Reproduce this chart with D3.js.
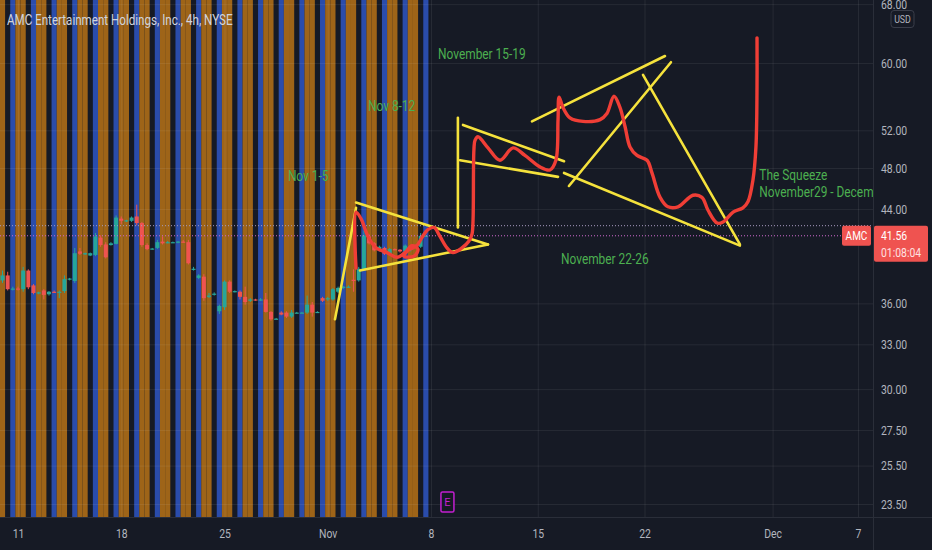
<!DOCTYPE html>
<html>
<head>
<meta charset="utf-8">
<script src="https://cdn.jsdelivr.net/npm/d3@7"></script>
<style>
html, body { margin: 0; padding: 0; background: #161a25; }
svg { display: block; font-family: Roboto, "Noto Sans", sans-serif; }
</style>
</head>
<body>
<div id="chart"></div>
<script>

// trading-day index: 0 = Oct 11, 20 = Nov 8, 40 = Dec 7 (weekends and Thanksgiving skipped)
var xTickDays = [0, 5, 10, 15, 20, 25, 30, 36, 40];
var xTickLabels = ['11', '18', '25', 'Nov', '8', '15', '22', 'Dec', '7'];
var yTicks = [23.5, 25.5, 27.5, 30, 33, 36, 44, 48, 52, 60, 68];

// 4h bars, 4 per day, first bar = Oct 8
var firstDay = -1;
var barsPerDay = 4;
var sessionColors = ['#9e6418', '#9e6418', null, '#2a4cab'];

var candleOpen = [37.9, 37.8, 38.2, 37.1, 37.15, 37.1, 38.6, 37.4, 36.8, 37.0, 36.7, 36.9, 36.85, 36.95, 37.9, 37.75,
    40.2, 40.0, 39.85, 39.9, 41.4, 40.8, 40.75, 40.85, 43.1, 42.9, 42.9, 43.3, 42.7, 40.75, 40.4, 40.5,
    41.05, 40.95, 41.0, 41.0, 41.05, 41.0, 38.65, 38.0, 38.1, 36.5, 36.7, 35.4, 35.7, 37.7, 36.95, 36.9,
    36.5, 36.2, 36.3, 36.3, 36.3, 35.35, 34.85, 35.3, 35.3, 35.0, 35.3, 35.3, 35.3, 35.9, 35.35, 36.4,
    36.3, 36.3, 36.9, 37.2, 37.3, 37.85, 37.8, 38.7, 41.5, 40.9, 40.3, 40.5, 40.0, 40.4, 40.35, 40.2,
    40.3, 40.6, 40.6, 41.56];
var candleHigh = [38.3, 38.6, 38.5, 37.3, 37.3, 38.9, 38.7, 37.5, 36.9, 37.1, 36.95, 37.0, 37.0, 38.2, 38.0, 40.5,
    40.5, 40.1, 40.1, 41.8, 41.6, 41.0, 41.0, 43.4, 43.3, 43.0, 43.3, 44.4, 42.8, 40.9, 40.5, 41.2,
    41.5, 41.1, 41.05, 41.1, 41.2, 41.2, 38.9, 38.3, 38.3, 36.8, 36.85, 35.9, 37.8, 37.8, 37.0, 37.0,
    37.3, 36.4, 36.35, 36.4, 36.8, 35.4, 34.9, 35.4, 35.4, 35.5, 35.35, 35.35, 36.6, 36.1, 35.4, 36.5,
    36.5, 37.2, 37.3, 37.35, 37.4, 38.7, 38.9, 42.0, 41.7, 41.0, 40.7, 40.6, 40.5, 40.45, 40.4, 40.8,
    40.7, 40.7, 41.8, 41.6];
var candleLow = [37.7, 37.6, 37.0, 37.0, 37.0, 36.9, 37.1, 36.7, 36.7, 36.3, 36.6, 36.8, 36.4, 36.8, 37.8, 37.6,
    39.9, 39.9, 39.8, 39.8, 40.6, 39.6, 40.7, 40.8, 42.6, 42.8, 42.8, 42.5, 40.6, 40.3, 40.35, 40.4,
    40.8, 40.9, 40.95, 40.9, 40.95, 39.1, 38.6, 37.9, 36.2, 36.4, 36.6, 35.2, 35.5, 36.8, 36.85, 36.3,
    35.9, 36.1, 36.2, 36.2, 35.3, 34.7, 34.8, 35.1, 34.9, 34.9, 35.25, 35.25, 35.2, 35.0, 35.3, 36.1,
    36.2, 36.2, 36.8, 37.1, 37.2, 36.9, 37.7, 38.6, 40.8, 40.2, 40.2, 39.9, 39.9, 40.3, 40.1, 40.1,
    40.2, 40.55, 40.5, 41.5];
var candleClose = [38.0, 38.2, 37.1, 37.15, 37.1, 38.6, 37.25, 36.8, 36.85, 36.65, 36.9, 36.85, 36.9, 37.9, 37.95, 40.05,
    40.0, 40.05, 40.05, 41.5, 40.75, 39.7, 40.9, 43.2, 42.9, 42.95, 43.2, 42.7, 40.75, 40.4, 40.45, 41.0,
    40.9, 41.0, 41.0, 41.05, 41.0, 39.2, 38.75, 38.2, 36.4, 36.6, 36.75, 35.8, 37.7, 36.9, 36.95, 36.5,
    36.1, 36.3, 36.25, 36.3, 35.35, 34.8, 34.85, 35.15, 35.0, 35.3, 35.3, 35.3, 35.9, 35.3, 35.35, 36.2,
    36.4, 37.1, 37.2, 37.3, 37.3, 37.75, 38.75, 41.6, 40.9, 40.3, 40.6, 40.0, 40.4, 40.35, 40.2, 40.7,
    40.6, 40.65, 41.56, 41.56];

var lastPrice = 41.56;
var countdown = '01:08:04';
var extLinePrice = 42.46;

// hand drawn yellow trend lines: start / end
var lineDay1 = [15.35, 16.37, 16.56, 21.26, 21.36, 21.5, 24.73, 26.46, 29.93, 26.23];
var linePrice1 = [34.8, 44.6, 38.6, 53.4, 48.8, 52.6, 53.0, 46.2, 58.5, 47.5];
var lineDay2 = [16.37, 22.67, 22.67, 21.26, 25.95, 26.23, 30.96, 31.24, 34.47, 34.47];
var linePrice2 = [44.1, 40.8, 40.8, 42.3, 47.1, 48.7, 60.9, 60.1, 40.8, 40.7];

// hand drawn red projection
var pathDay = [16.37, 16.37, 16.61, 16.95, 17.34, 17.87, 18.35, 18.74, 19.08, 19.37, 19.18, 18.69, 18.89, 19.32, 19.56,
    19.85, 20.14, 20.42, 20.75, 21.03, 21.45, 21.78, 21.92, 21.97, 22.01, 22.06, 22.2, 22.67, 23.23, 23.84,
    24.4, 25.11, 25.57, 25.85, 25.95, 26.0, 26.18, 26.51, 27.12, 27.92, 28.24, 28.57, 28.85, 29.09, 29.32,
    29.65, 30.12, 30.35, 30.73, 31.1, 31.57, 32.27, 32.69, 32.97, 33.4, 33.68, 34.15, 34.61, 34.85, 35.08,
    35.22, 35.27, 35.27];
var pathPrice = [38.8, 43.7, 43.1, 41.5, 40.5, 40.1, 39.7, 40.1, 40.7, 40.4, 39.8, 39.8, 40.3, 40.7, 41.4,
    42.1, 42.3, 41.5, 40.5, 40.1, 40.5, 41.1, 41.7, 43.0, 49.9, 50.9, 51.3, 50.1, 48.8, 50.1,
    49.3, 48.1, 47.8, 48.8, 53.2, 55.8, 54.6, 53.4, 53.0, 53.2, 53.9, 55.9, 54.6, 52.4, 50.2,
    49.3, 48.8, 47.5, 45.1, 44.2, 44.2, 45.3, 45.1, 43.9, 42.7, 42.8, 43.7, 44.1, 44.7, 46.8,
    50.2, 57.0, 63.3];

var noteText = ['Nov 1-5', 'Nov 8-12', 'November 15-19', 'November 22-26', 'The Squeeze', 'November29 - December 3'];
var noteDay = [13.07, 16.95, 20.33, 26.09, 35.38, 35.38];
var notePrice = [46.7, 54.2, 60.5, 39.1, 46.8, 45.1];

var earningsDay = 20.77;

var width = 932, height = 550;
var plotW = 873, plotH = 517;

var svg = d3.select('#chart').append('svg')
    .attr('width', width)
    .attr('height', height);

svg.append('rect')
    .attr('width', width)
    .attr('height', height)
    .attr('fill', '#161a25');

var x = d3.scaleLinear().domain([0, 20, 40]).range([18, 431, 858]);
var y = d3.scaleLog().domain([22.86, 68.6]).range([plotH, 0]);

// narrower glyphs like the screenshot
function condense(sel, k) {
    sel.each(function () {
        var w = this.getComputedTextLength();
        d3.select(this).attr('textLength', w * k).attr('lengthAdjust', 'spacingAndGlyphs');
    });
}

svg.append('clipPath').attr('id', 'plot')
    .append('rect').attr('width', plotW).attr('height', plotH);

var plot = svg.append('g').attr('clip-path', 'url(#plot)');

var bars = d3.range(candleOpen.length).map(i => ({
    day: firstDay + i / barsPerDay,
    color: sessionColors[i % barsPerDay],
    o: candleOpen[i], h: candleHigh[i], l: candleLow[i], c: candleClose[i]
}));

// session background
var half = 0.5 / barsPerDay;
plot.selectAll('.session')
    .data(bars.filter(d => d.color))
    .enter()
    .append('rect')
    .attr('class', 'session')
    .attr('x', d => x(d.day - half))
    .attr('width', d => x(d.day + half) - x(d.day - half))
    .attr('y', 0)
    .attr('height', plotH)
    .attr('fill', d => d.color);

// grid
plot.append('g')
    .call(d3.axisBottom(x).tickValues(xTickDays).tickSize(plotH).tickFormat(''))
    .call(g => g.select('.domain').remove())
    .selectAll('line').attr('stroke', 'rgba(255,255,255,0.07)');

plot.append('g')
    .call(d3.axisRight(y).tickValues(yTicks).tickSize(plotW).tickFormat(''))
    .call(g => g.select('.domain').remove())
    .selectAll('line').attr('stroke', 'rgba(255,255,255,0.07)');

// candles
var candle = plot.selectAll('.candle')
    .data(bars)
    .enter()
    .append('g')
    .attr('class', 'candle')
    .attr('fill', d => d.c >= d.o ? '#26a69a' : '#ef5350')
    .attr('stroke', d => d.c >= d.o ? '#26a69a' : '#ef5350');

candle.append('line')
    .attr('x1', d => x(d.day))
    .attr('x2', d => x(d.day))
    .attr('y1', d => y(d.h))
    .attr('y2', d => y(d.l))
    .attr('stroke-width', 1);

candle.append('rect')
    .attr('x', d => x(d.day) - 2)
    .attr('width', 4)
    .attr('y', d => y(Math.max(d.o, d.c)))
    .attr('height', d => Math.max(1.2, Math.abs(y(d.o) - y(d.c))))
    .attr('stroke', 'none');

// price lines
plot.append('line')
    .attr('x1', 0).attr('x2', plotW)
    .attr('y1', y(extLinePrice)).attr('y2', y(extLinePrice))
    .attr('stroke', '#a89cc0')
    .attr('stroke-width', 1)
    .attr('stroke-dasharray', '1 2');

plot.append('line')
    .attr('x1', 0).attr('x2', plotW)
    .attr('y1', y(lastPrice)).attr('y2', y(lastPrice))
    .attr('stroke', '#d06ad0')
    .attr('stroke-width', 1)
    .attr('stroke-dasharray', '1 2');

// yellow drawings
plot.selectAll('.trend')
    .data(lineDay1)
    .enter()
    .append('line')
    .attr('class', 'trend')
    .attr('x1', (d, i) => x(lineDay1[i]))
    .attr('y1', (d, i) => y(linePrice1[i]))
    .attr('x2', (d, i) => x(lineDay2[i]))
    .attr('y2', (d, i) => y(linePrice2[i]))
    .attr('stroke', '#f5e23c')
    .attr('stroke-width', 2.6)
    .attr('stroke-linecap', 'round');

// red projection
var line = d3.line()
    .x((d, i) => x(pathDay[i]))
    .y((d, i) => y(pathPrice[i]))
    .curve(d3.curveCatmullRom.alpha(0.5));

plot.append('path')
    .datum(pathDay)
    .attr('d', line)
    .attr('fill', 'none')
    .attr('stroke', '#f03e36')
    .attr('stroke-width', 3.4)
    .attr('stroke-linejoin', 'round')
    .attr('stroke-linecap', 'round');

// notes
plot.selectAll('.note')
    .data(noteText)
    .enter()
    .append('text')
    .attr('class', 'note')
    .attr('x', (d, i) => x(noteDay[i]))
    .attr('y', (d, i) => y(notePrice[i]))
    .attr('fill', '#4caf50')
    .attr('font-size', 14.5)
    .text(d => d)
    .call(condense, 0.82);

// earnings marker
var ex = x(earningsDay);
svg.append('rect')
    .attr('x', ex - 6.5).attr('y', 492)
    .attr('width', 13).attr('height', 20)
    .attr('rx', 1.5)
    .attr('fill', '#161a25')
    .attr('stroke', '#c31fd0')
    .attr('stroke-width', 1.5);
svg.append('text')
    .attr('x', ex).attr('y', 502)
    .attr('dy', '0.35em')
    .attr('text-anchor', 'middle')
    .attr('font-size', 11)
    .attr('fill', '#c31fd0')
    .text('E');

// axes frame
svg.append('line')
    .attr('x1', 0).attr('x2', width)
    .attr('y1', plotH + 0.5).attr('y2', plotH + 0.5)
    .attr('stroke', '#2a2e39');
svg.append('line')
    .attr('x1', plotW + 0.5).attr('x2', plotW + 0.5)
    .attr('y1', 0).attr('y2', height)
    .attr('stroke', '#2a2e39');

var xAxis = svg.append('g')
    .attr('transform', 'translate(0,' + plotH + ')')
    .call(d3.axisBottom(x).tickValues(xTickDays).tickSize(0)
        .tickFormat((d, i) => xTickLabels[i]));
xAxis.select('.domain').remove();
xAxis.selectAll('text')
    .attr('y', 16)
    .attr('dy', '0.35em')
    .attr('fill', '#b2b5be')
    .attr('font-size', 13)
    .attr('font-family', 'Roboto, sans-serif')
    .call(condense, 0.8);

var yAxis = svg.append('g')
    .attr('transform', 'translate(' + plotW + ',0)')
    .call(d3.axisRight(y).tickValues(yTicks).tickSize(0).tickPadding(8)
        .tickFormat(d3.format('.2f')));
yAxis.select('.domain').remove();
yAxis.selectAll('text')
    .attr('fill', '#b2b5be')
    .attr('font-size', 13)
    .attr('font-family', 'Roboto, sans-serif')
    .call(condense, 0.8);

// currency box
svg.append('rect')
    .attr('x', 891).attr('y', 10.5)
    .attr('width', 23).attr('height', 17)
    .attr('rx', 3)
    .attr('fill', '#161a25')
    .attr('stroke', '#3a3e4a');
svg.append('text')
    .attr('x', 902.5).attr('y', 19)
    .attr('dy', '0.35em')
    .attr('text-anchor', 'middle')
    .attr('font-size', 11)
    .attr('fill', '#b2b5be')
    .text('USD')
    .call(condense, 0.8);

// last price labels
var yl = y(lastPrice);
svg.append('rect')
    .attr('x', 842).attr('y', yl - 10)
    .attr('width', 29).attr('height', 20)
    .attr('rx', 2)
    .attr('fill', '#ef5350');
svg.append('text')
    .attr('x', 856.5).attr('y', yl)
    .attr('dy', '0.35em')
    .attr('text-anchor', 'middle')
    .attr('font-size', 12.5)
    .attr('fill', '#ffffff')
    .text('AMC')
    .call(condense, 0.8);

svg.append('rect')
    .attr('x', plotW + 1).attr('y', yl - 10)
    .attr('width', 54).attr('height', 36)
    .attr('rx', 2)
    .attr('fill', '#ef5350');
svg.append('text')
    .attr('x', 881).attr('y', yl)
    .attr('dy', '0.35em')
    .attr('font-size', 13)
    .attr('fill', '#ffffff')
    .text(d3.format('.2f')(lastPrice))
    .call(condense, 0.8);
svg.append('text')
    .attr('x', 881).attr('y', yl + 17)
    .attr('dy', '0.35em')
    .attr('font-size', 13)
    .attr('fill', '#ffe0e0')
    .text(countdown)
    .call(condense, 0.8);

// title
svg.append('text')
    .attr('x', 7).attr('y', 25)
    .attr('font-size', 14.5)
    .attr('fill', '#d1d4dc')
    .text('AMC Entertainment Holdings, Inc., 4h, NYSE')
    .call(condense, 0.8);

</script>
</body>
</html>
